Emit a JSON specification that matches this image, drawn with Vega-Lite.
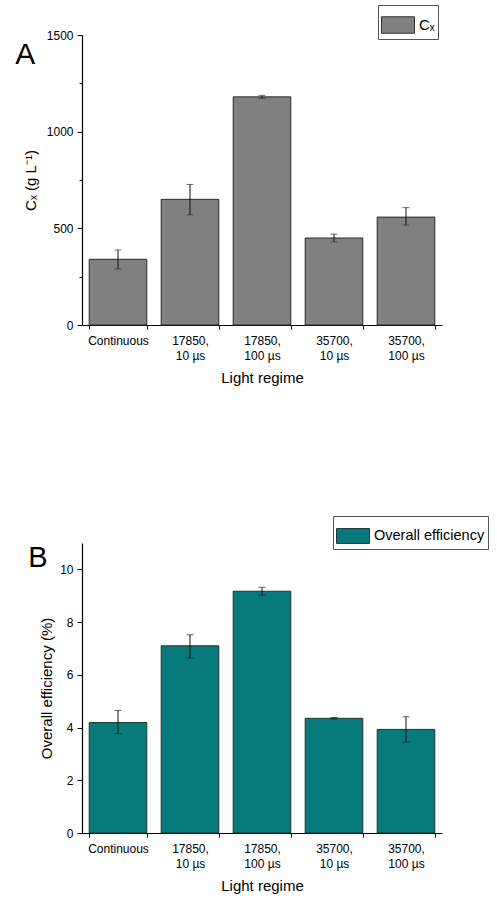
{
  "$schema": "https://vega.github.io/schema/vega-lite/v6.json",
  "background": "white",
  "padding": {"left": 15, "top": 4, "right": 5, "bottom": 2},
  "spacing": 130,
  "config": {
    "view": {"stroke": null},
    "font": "Liberation Sans",
    "axis": {
      "domainColor": "#000", "domainWidth": 1.2, "tickColor": "#000", "tickWidth": 1,
      "labelFont": "Liberation Sans", "labelFontSize": 12, "labelColor": "#000",
      "titleFont": "Liberation Sans", "titleFontSize": 15, "titleFontWeight": "normal", "titleColor": "#000",
      "grid": false, "labelOverlap": false, "labelFlush": false
    },
    "title": {"font": "Liberation Sans"}
  },
  "datasets": {
    "cx": [
      {"regime": "Continuous", "value": 340, "lo": 290, "hi": 388},
      {"regime": "17850, 10 µs", "value": 650, "lo": 570, "hi": 727},
      {"regime": "17850, 100 µs", "value": 1180, "lo": 1172, "hi": 1188},
      {"regime": "35700, 10 µs", "value": 450, "lo": 430, "hi": 470},
      {"regime": "35700, 100 µs", "value": 558, "lo": 517, "hi": 607}
    ],
    "eff": [
      {"regime": "Continuous", "value": 4.19, "lo": 3.77, "hi": 4.65},
      {"regime": "17850, 10 µs", "value": 7.1, "lo": 6.64, "hi": 7.52},
      {"regime": "17850, 100 µs", "value": 9.17, "lo": 9.02, "hi": 9.32},
      {"regime": "35700, 10 µs", "value": 4.35, "lo": 4.32, "hi": 4.38},
      {"regime": "35700, 100 µs", "value": 3.93, "lo": 3.45, "hi": 4.41}
    ]
  },
  "vconcat": [
    {
      "width": 360, "height": 290,
      "data": {"name": "cx"},
      "title": {"text": "A", "orient": "left", "anchor": "end", "angle": 0, "align": "left", "baseline": "top", "frame": "group", "fontSize": 30, "fontWeight": "normal", "color": "#000", "offset": -12, "dy": 5},
      "encoding": {
        "x": {
          "field": "regime", "type": "nominal", "sort": null,
          "scale": {"paddingInner": 0.2, "paddingOuter": 0.1},
          "axis": {
            "title": "Light regime", "labelAngle": 0, "tickBand": "extent", "tickSize": 4, "labelPadding": 6,
            "labelLineHeight": 15, "titlePadding": 9,
            "labelExpr": "indexof(datum.label, ', ') > 0 ? [slice(datum.label, 0, indexof(datum.label, ', ') + 1), slice(datum.label, indexof(datum.label, ', ') + 2)] : datum.label"
          }
        }
      },
      "layer": [
        {
          "mark": {"type": "bar", "stroke": "#2a2a2a", "strokeWidth": 1},
          "encoding": {
            "y": {
              "field": "value", "type": "quantitative", "scale": {"domain": [0, 1500], "nice": false},
              "axis": {
                "title": "Cₓ (g L⁻¹)", "values": [0, 250, 500, 750, 1000, 1250, 1500], "format": "d",
                "labelExpr": "datum.value % 500 === 0 ? datum.label : ''",
                "tickSize": {"condition": {"test": "datum.value % 500 === 0", "value": 5}, "value": 3},
                "labelPadding": 4, "titlePadding": 8
              }
            },
            "fill": {
              "datum": "Cₓ", "type": "nominal", "scale": {"range": ["#808080"]},
              "legend": {
                "orient": "none", "legendX": 296, "legendY": -30, "title": null,
                "strokeColor": "#555", "fillColor": "white", "padding": 3,
                "symbolType": "M-1,-0.5H1V0.5H-1Z", "symbolSize": 1089, "symbolStrokeColor": "#333", "symbolStrokeWidth": 1,
                "labelFontSize": 15, "labelFont": "Liberation Sans", "labelColor": "#000", "labelOffset": 4
              }
            }
          }
        },
        {
          "mark": {"type": "rule", "color": "#111", "strokeWidth": 1},
          "encoding": {
            "y": {"field": "lo", "type": "quantitative", "title": "Cₓ (g L⁻¹)"},
            "y2": {"field": "hi"}
          }
        },
        {
          "mark": {"type": "tick", "color": "#333", "size": 7, "thickness": 1},
          "encoding": {"y": {"field": "lo", "type": "quantitative", "title": "Cₓ (g L⁻¹)"}}
        },
        {
          "mark": {"type": "tick", "color": "#333", "size": 7, "thickness": 1},
          "encoding": {"y": {"field": "hi", "type": "quantitative", "title": "Cₓ (g L⁻¹)"}}
        }
      ]
    },
    {
      "width": 360, "height": 290,
      "data": {"name": "eff"},
      "title": {"text": "B", "orient": "left", "anchor": "end", "angle": 0, "align": "left", "baseline": "top", "frame": "group", "fontSize": 29, "fontWeight": "normal", "color": "#000", "offset": -8, "dy": 1},
      "encoding": {
        "x": {
          "field": "regime", "type": "nominal", "sort": null,
          "scale": {"paddingInner": 0.2, "paddingOuter": 0.1},
          "axis": {
            "title": "Light regime", "labelAngle": 0, "tickBand": "extent", "tickSize": 4, "labelPadding": 6,
            "labelLineHeight": 15, "titlePadding": 9,
            "labelExpr": "indexof(datum.label, ', ') > 0 ? [slice(datum.label, 0, indexof(datum.label, ', ') + 1), slice(datum.label, indexof(datum.label, ', ') + 2)] : datum.label"
          }
        }
      },
      "layer": [
        {
          "mark": {"type": "bar", "stroke": "#1d3535", "strokeWidth": 1},
          "encoding": {
            "y": {
              "field": "value", "type": "quantitative", "scale": {"domain": [0, 11], "nice": false},
              "axis": {
                "title": "Overall efficiency (%)", "values": [0, 1, 2, 3, 4, 5, 6, 7, 8, 9, 10, 11], "format": "d",
                "labelExpr": "datum.value % 2 === 0 ? datum.label : ''",
                "tickSize": {"condition": {"test": "datum.value % 2 === 0", "value": 5}, "value": 3},
                "labelPadding": 4, "titlePadding": 5
              }
            },
            "fill": {
              "datum": "Overall efficiency", "type": "nominal", "scale": {"range": ["#067a7a"]},
              "legend": {
                "orient": "none", "legendX": 251, "legendY": -27, "title": null,
                "strokeColor": "#555", "fillColor": "white", "padding": 3,
                "symbolType": "M-1,-0.45H1V0.45H-1Z", "symbolSize": 1089, "symbolStrokeColor": "#1d3535", "symbolStrokeWidth": 1,
                "labelFontSize": 14.5, "labelFont": "Liberation Sans", "labelColor": "#000", "labelOffset": 4
              }
            }
          }
        },
        {
          "mark": {"type": "rule", "color": "#111", "strokeWidth": 1},
          "encoding": {
            "y": {"field": "lo", "type": "quantitative", "title": "Overall efficiency (%)"},
            "y2": {"field": "hi"}
          }
        },
        {
          "mark": {"type": "tick", "color": "#222", "size": 7, "thickness": 1},
          "encoding": {"y": {"field": "lo", "type": "quantitative", "title": "Overall efficiency (%)"}}
        },
        {
          "mark": {"type": "tick", "color": "#222", "size": 7, "thickness": 1},
          "encoding": {"y": {"field": "hi", "type": "quantitative", "title": "Overall efficiency (%)"}}
        }
      ]
    }
  ],
  "resolve": {"scale": {"fill": "independent"}}
}
